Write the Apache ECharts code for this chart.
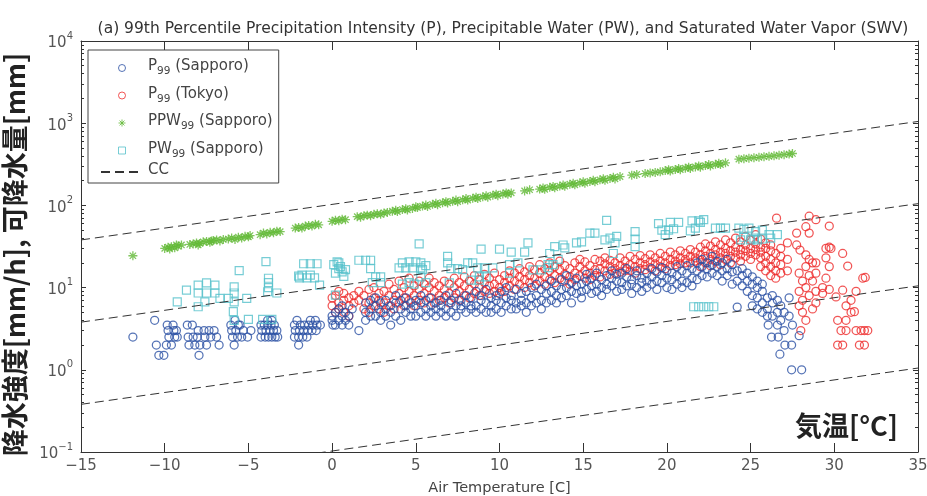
<!DOCTYPE html>
<html>
<head>
<meta charset="utf-8">
<title>P99 / PW99 vs air temperature</title>
<script src="https://cdn.jsdelivr.net/npm/echarts@6.0.0/dist/echarts.min.js"></script>
<style>
  html, body { margin: 0; padding: 0; background: #fff; }
  #main { width: 927px; height: 496px; }
</style>
</head>
<body>
<div id="main"></div>
<script>
// 99th percentile precipitation intensity, Sapporo [temperature, mm/h]
var sapporoP = [
  [-11.9,2.5],
  [-10.6,4],[-10.5,2],[-10.35,1.5],[-10.05,1.5],[-9.9,2],[-9.85,3.5],[-9.5,3.5],[-9.8,3],[-9.45,3],[-9.75,2.5],[-9.4,2.5],[-9.25,2.5],[-9.6,2],[-9.3,3],
  [-8.65,3.5],[-8.35,3.5],[-8.6,2.5],[-8.3,2.5],[-8.05,2.5],[-8.55,2],[-8.2,2],[-7.9,2],[-7.95,1.5],[-8.0,3],[-7.65,3],[-7.35,3],[-7.05,3],[-7.6,2.5],[-7.25,2.5],[-6.9,2.5],[-6.75,2],[-7.5,2],
  [-6.05,3.5],[-6.0,3],[-5.75,3],[-5.6,3.5],[-5.95,2.5],[-5.65,2.5],[-5.4,2.5],[-5.85,2],[-5.3,3],[-5.05,2.5],[-4.85,3],[-5.8,4],[-5.5,3.5],
  [-4.25,3.5],[-4.05,3.5],[-3.85,3.5],[-3.65,3.5],[-3.45,3.5],[-4.2,3],[-3.95,3],[-3.7,3],[-3.5,3],[-3.3,3],[-4.25,2.5],[-4.0,2.5],[-3.8,2.5],[-3.6,2.5],[-3.4,2.5],[-3.25,2.5],[-3.85,4],[-3.6,4],
  [-2.25,3.5],[-2.1,4],[-1.9,3.5],[-1.65,3.5],[-1.4,3.5],[-1.15,3.5],[-0.9,3.5],[-0.7,3.5],[-2.2,3],[-1.95,3],[-1.7,3],[-1.45,3],[-1.2,3],[-0.95,3],[-2.25,2.5],[-2.0,2.5],[-1.75,2.5],[-1.5,2.5],[-2.0,2],[-1.3,4],[-1.0,4],
  [0.0,4],[0.0,4.5],[0.05,3.5],[0.2,5],[0.2,3.5],[0.4,4],[0.4,5.5],[0.6,4.5],[0.6,3.5],[0.6,6],[0.8,5],[0.8,4],[1.0,4.5],[1.0,3.5],[1.2,5.5],[1.6,3],
  [2.0,5],[2.0,6.5],[2.0,4],[2.3,5.5],[2.3,7],[2.3,4.5],[2.6,6],[2.6,4.5],[2.6,7.5],[2.9,5],[2.9,6.5],[2.9,4],[3.2,5.5],[3.2,7],[3.2,4.5],[3.5,6],[3.5,5],[3.5,3.5],
  [3.8,6.5],[3.8,4.5],[3.8,8],[4.1,5.5],[4.1,7],[4.1,4],[4.4,6],[4.4,5],[4.4,7.5],[4.7,5.5],[4.7,4.5],[4.7,6.5],[5.0,6],[5.0,7],[5.0,4.5],[5.3,5],[5.3,6.5],[5.3,8],
  [5.6,5.5],[5.6,4.5],[5.6,7],[5.9,6],[5.9,5],[5.9,7.5],[6.2,6.5],[6.2,4.5],[6.2,5.5],[6.5,7],[6.5,5],[6.5,6],[6.8,5.5],[6.8,8],[6.8,4.5],[7.1,6.5],[7.1,5],[7.1,7],
  [7.4,6],[7.4,4.5],[7.4,8.5],[7.7,7],[7.7,5.5],[7.7,6],[8.0,6.5],[8.0,5],[8.0,8],[8.3,7.5],[8.3,5.5],[8.3,6],[8.6,6],[8.6,9],[8.6,5],[8.9,7],[8.9,5.5],[8.9,8],
  [9.2,6.5],[9.2,5],[9.2,9.5],[9.5,7.5],[9.5,6],[9.5,5],[9.8,8],[9.8,5.5],[9.8,7],[10.1,6.5],[10.1,9],[10.1,5],[10.4,7.5],[10.4,6],[10.4,10],[10.7,8],[10.7,5.5],[10.7,7],
  [11.0,6.5],[11.0,9.5],[11.0,5.5],[11.3,7],[11.3,8.5],[11.3,6],[11.6,9],[11.6,6.5],[11.6,5],[11.9,7.5],[11.9,10],[11.9,6],[12.2,8],[12.2,6.5],[12.2,11],[12.5,7],[12.5,9.5],[12.5,5.5],
  [12.8,8.5],[12.8,6.5],[12.8,10.5],[13.1,9],[13.1,7],[13.1,12],[13.4,8],[13.4,10.5],[13.4,6.5],[13.7,9.5],[13.7,7.5],[13.7,12.5],[14.0,10],[14.0,8],[14.0,14],[14.3,9],[14.3,11.5],[14.3,6.5],
  [14.6,10.5],[14.6,8.5],[14.6,13],[14.9,11],[14.9,9],[14.9,7.5],[15.2,12],[15.2,9.5],[15.2,14.5],[15.5,10.5],[15.5,13],[15.5,8.5],[15.8,11],[15.8,9],[15.8,15],[16.1,12.5],[16.1,10],[16.1,8],
  [16.4,11],[16.4,14],[16.4,9.5],[16.7,13],[16.7,10.5],[16.7,16],[17.0,12],[17.0,9],[17.0,14.5],[17.3,11.5],[17.3,15],[17.3,9.5],[17.6,13.5],[17.6,10.5],[17.6,17],[17.9,12.5],[17.9,11],[17.9,8.5],
  [18.2,14],[18.2,10],[18.2,16],[18.5,13],[18.5,11.5],[18.5,9],[18.8,15],[18.8,12],[18.8,10],[19.1,13.5],[19.1,11],[19.1,17],[19.4,12],[19.4,15.5],[19.4,9.5],[19.7,14],[19.7,11.5],[19.7,17.5],
  [20.0,13],[20.0,10],[20.0,16],[20.3,15],[20.3,12.5],[20.3,9.5],[20.6,14],[20.6,18],[20.6,11],[20.9,16],[20.9,12],[20.9,10],[21.2,15],[21.2,18.5],[21.2,11.5],[21.5,17],[21.5,13],[21.5,10.5],
  [21.8,16],[21.8,20],[21.8,12.5],[22.1,18],[22.1,14],[22.1,22],[22.4,17],[22.4,13.5],[22.4,20],[22.7,19],[22.7,15],[22.7,24],[23.0,18],[23.0,14],[23.0,21],[23.3,20],[23.3,16],[23.3,12],
  [23.6,17],[23.6,22],[23.6,14],[23.9,19],[23.9,15.5],[23.9,11],[24.2,16],[24.2,12],[24.2,5.8],[24.5,14],[24.5,10.5],[24.5,17],[24.8,12],[24.8,9],[24.8,15],
  [25.1,11],[25.1,8],[25.1,13.5],[25.1,6],[25.4,10],[25.4,7.5],[25.4,12],[25.4,5.5],[25.7,9],[25.7,6.5],[25.7,5],[25.7,11],[26.0,7.5],[26.0,5.5],[26.0,4.5],[26.05,3.5],
  [26.3,6.5],[26.3,4.5],[26.25,2.5],[26.3,8],[26.6,5],[26.65,2.5],[26.6,3.5],[26.6,7],[26.75,1.55],[26.8,4],[26.8,6],[27.05,2],[27.0,3],[27.0,5],[27.3,4.5],[27.45,2],[27.3,7.5],
  [27.45,1.0],[27.5,3.5],[28.05,1.0],[27.9,2.6]
];

// 99th percentile precipitation intensity, Tokyo [temperature, mm/h]
var tokyoP = [
  [0.0,6],[0.0,7.5],[0.2,5],[0.2,8],[0.4,6.5],[0.4,9],[0.4,5.5],[0.7,7],[0.7,5],[0.7,8.5],[1.0,6],[1.0,7.5],[1.0,4.5],[1.3,8],[1.3,6.5],[1.6,7],[1.6,9],[1.9,5.5],[1.9,8],
  [2.2,6.5],[2.2,9.5],[2.2,5],[2.5,7.5],[2.5,6],[2.5,10],[2.8,8.5],[2.8,5.5],[2.8,7],[3.1,6.5],[3.1,9],[3.1,5],[3.4,8],[3.4,11],[3.4,6],[3.7,7],[3.7,9.5],[3.7,5.5],
  [4.0,8.5],[4.0,6.5],[4.0,12],[4.3,7.5],[4.3,10],[4.3,6],[4.6,9],[4.6,13],[4.6,7],[4.9,8],[4.9,10.5],[4.9,6],[5.2,9.5],[5.2,7],[5.2,12],[5.5,8.5],[5.5,6.5],[5.5,11],
  [5.8,10],[5.8,7.5],[5.8,13],[6.1,9],[6.1,6.5],[6.1,11.5],[6.4,8],[6.4,10.5],[6.4,7],[6.7,9.5],[6.7,12],[6.7,7.5],[7.0,8.5],[7.0,11],[7.0,6.5],[7.3,10],[7.3,7.5],[7.3,13],
  [7.6,9],[7.6,11.5],[7.6,7],[7.9,10.5],[7.9,8],[7.9,13.5],[8.2,9.5],[8.2,12],[8.2,7.5],[8.5,11],[8.5,8.5],[8.5,14],[8.8,10],[8.8,12.5],[8.8,8],[9.1,9],[9.1,11.5],[9.1,14.5],
  [9.4,10.5],[9.4,8.5],[9.4,13],[9.7,11],[9.7,9],[9.7,15],[10.0,10],[10.0,12.5],[10.0,8.5],[10.3,11.5],[10.3,14],[10.3,9],[10.6,10.5],[10.6,13],[10.6,16],[10.9,12],[10.9,9.5],[10.9,15],
  [11.2,11],[11.2,13.5],[11.2,17],[11.5,12.5],[11.5,10],[11.5,15.5],[11.8,11.5],[11.8,14],[11.8,18],[12.1,13],[12.1,10.5],[12.1,16.5],[12.4,12],[12.4,15],[12.4,19],[12.7,13.5],[12.7,11],[12.7,17],
  [13.0,12.5],[13.0,16],[13.0,20],[13.3,14],[13.3,11.5],[13.3,18],[13.6,13],[13.6,16.5],[13.6,21],[13.9,14.5],[13.9,12],[13.9,18.5],[14.2,13.5],[14.2,17],[14.2,11],[14.5,15],[14.5,12.5],[14.5,20],
  [14.8,14],[14.8,18],[14.8,22],[15.1,16],[15.1,13],[15.1,20.5],[15.4,15],[15.4,18.5],[15.4,12.5],[15.7,16.5],[15.7,14],[15.7,22],[16.0,17],[16.0,13.5],[16.0,21],[16.3,16],[16.3,19.5],[16.3,23],
  [16.6,18],[16.6,14.5],[16.6,21.5],[16.9,17],[16.9,20],[16.9,15],[17.2,18.5],[17.2,15.5],[17.2,23],[17.5,17.5],[17.5,21],[17.5,16],[17.8,19],[17.8,16],[17.8,24],[18.1,18],[18.1,22],[18.1,15],
  [18.4,20],[18.4,17],[18.4,24.5],[18.7,19],[18.7,22.5],[18.7,16.5],[19.0,20.5],[19.0,17.5],[19.0,25],[19.3,19.5],[19.3,23],[19.3,16],[19.6,21],[19.6,18],[19.6,26],[19.9,20],[19.9,24],[19.9,17],
  [20.2,22],[20.2,18.5],[20.2,27],[20.5,21],[20.5,25],[20.5,19],[20.8,23],[20.8,19.5],[20.8,28],[21.1,22],[21.1,26],[21.1,20],[21.4,24],[21.4,20],[21.4,29],[21.7,23],[21.7,27],[21.7,21],
  [22.0,25],[22.0,21.5],[22.0,31],[22.0,18],[22.3,24],[22.3,28],[22.3,20],[22.3,34],[22.6,26],[22.6,22],[22.6,32],[22.6,18.5],[22.9,25],[22.9,29],[22.9,36],[22.9,21],
  [23.2,27],[23.2,23],[23.2,33],[23.2,19],[23.5,26],[23.5,30],[23.5,38],[23.5,22],[23.8,28],[23.8,24],[23.8,35],[23.8,20],[24.1,27],[24.1,31],[24.1,40],[24.1,23],
  [24.4,29],[24.4,25],[24.4,36],[24.4,21],[24.7,28],[24.7,33],[24.7,42],[24.7,24],[25.0,30],[25.0,26],[25.0,38],[25.0,22],[25.3,29],[25.3,34],[25.3,44],[25.3,25],
  [25.6,31],[25.6,27],[25.6,39],[25.6,23],[25.6,18],[25.9,30],[25.9,35],[25.9,24],[25.9,20],[25.9,16],[26.2,28],[26.2,33],[26.2,22],[26.2,18],[26.2,14],
  [26.55,70],[26.5,26],[26.5,20],[26.5,16],[26.5,13],[26.8,30],[26.8,24],[26.8,19],[26.8,15],[27.2,35],[27.2,22],[27.2,16],
  [27.75,46],[27.75,33],[27.95,28.6],[27.9,15],[27.9,9],[27.9,6],[28.0,3],[28.1,12],[28.1,7],[28.1,5],[28.3,55],[28.3,25],[28.3,18],[28.3,10],[28.3,4],
  [28.5,74],[28.5,46],[28.5,22],[28.5,14],[28.5,8],[28.7,20],[28.7,12],[28.7,5.5],[28.9,67],[28.9,20],[28.9,15],[28.9,9],[28.9,6.5],
  [29.3,10],[29.3,8.5],[29.5,30],[29.5,23],[29.5,13],[29.7,56],[29.7,31],[29.7,18],[29.7,9.5],[29.8,30],[30.1,7.7],[30.2,4],[30.2,2],[30.4,3],
  [30.5,26],[30.5,9.3],[30.5,2],[30.7,4],[30.7,3],[30.7,6],[30.8,18.3],[31.0,5],[31.0,7],[31.2,5.1],[31.3,3],[31.3,9],[31.5,2],[31.6,3],
  [31.7,13],[31.8,2],[31.8,3],[31.85,13.3],[32.0,3]
];

// 99th percentile of potential precipitable water, Sapporo [temperature, mm]
var ppwSapporo = [
  [-11.9,24.4],
  [-10.0,30],[-9.8,31],[-9.6,31.5],[-9.4,30.5],[-9.2,32],[-9.0,33],[-9.7,29.5],[-9.3,33],
  [-8.5,33.5],[-8.3,34],[-8.1,35],[-7.9,34.5],[-7.7,36],[-7.5,36.5],[-7.3,35.5],[-7.1,37.5],[-6.9,38],[-6.7,37],[-6.5,38.5],[-8.0,33],[-7.2,37],
  [-6.2,39],[-6.0,40],[-5.8,38.5],[-5.6,41],[-5.4,40],[-5.2,42],[-5.0,41.5],[-4.9,43],
  [-4.3,44],[-4.1,46],[-3.9,45],[-3.7,47],[-3.5,46.5],[-3.3,48.5],[-3.1,48],
  [-2.2,53],[-2.0,54],[-1.8,53],[-1.6,56],[-1.4,57],[-1.2,56],[-1.0,59],[-0.8,58],
  [0.0,64],[0.2,66],[0.4,65],[0.6,68],[0.8,67],
  [1.5,73],[1.7,72],[1.9,75],[2.1,76],[2.3,75],[2.5,78],[2.7,79],[2.9,78],[3.1,81],[3.3,82],
  [3.6,85],[3.8,87],[3.9,84],[4.2,89],[4.4,91],[4.5,88],[4.8,92],[5.0,96],[5.1,94],[5.4,98],[5.6,101],[5.7,97],[6.0,103],[6.2,106],[6.3,102],
  [6.6,108],[6.8,111],[6.9,107],[7.2,112],[7.4,116],[7.5,111],[7.8,117],[8.0,121],[8.1,116],[8.4,122],[8.6,126],[8.7,121],[9.0,127],[9.2,131],
  [9.3,126],[9.6,133],[9.8,137],[9.9,131],[10.2,138],[10.4,142],[10.5,137],[10.7,142],
  [11.5,150],[11.8,155],
  [12.4,158],[12.6,163],[12.7,157],[13.0,166],[13.2,170],[13.3,164],[13.6,172],[13.8,177],[13.9,171],[14.2,181],[14.4,186],[14.5,178],[14.8,188],
  [15.0,194],[15.1,186],[15.4,196],[15.6,202],[15.7,194],[16.0,205],[16.2,211],[16.3,202],[16.6,213],[16.8,220],[16.9,210],[17.2,224],
  [17.9,233],[18.2,238],
  [18.7,244],[19.0,248],[19.3,252],[19.6,256],
  [19.9,265],[20.1,272],[20.2,262],[20.5,274],[20.7,281],[20.8,272],[21.1,284],[21.3,292],[21.4,282],[21.7,294],[21.9,302],[22.0,292],
  [22.3,305],[22.5,314],[22.6,302],[22.9,316],[23.1,325],[23.2,314],[23.5,330],
  [24.3,365],[24.6,370],[24.9,375],[25.2,380],[25.5,385],[25.8,391],[26.1,396],[26.4,401],[26.7,408],[27.0,414],[27.3,421],[27.5,428]
];

// 99th percentile of precipitable water, Sapporo [temperature, mm]
var pwSapporo = [
  [-9.25,6.7],[-8.7,9.3],[-8.0,10.7],[-7.5,11.4],[-7.0,10.7],[-8.0,8.6],[-7.5,8.6],[-7.0,8.6],[-8.0,5.85],[-7.6,6.7],[-6.7,7.4],[-6.2,7.4],
  [-5.85,10.2],[-5.85,8.6],[-5.85,6.7],[-5.9,5.1],[-5.85,4.0],[-5.55,16.1],[-5.0,4.1],[-5.1,7.4],[-4.15,4.1],[-3.6,4.1],
  [-3.95,20.7],[-3.8,13],[-3.8,11.5],[-3.8,10],[-3.85,8.9],[-3.3,8.6],
  [-1.95,13.1],[-1.5,13.1],[-1.05,13.1],[-1.7,19.5],[-1.3,19.5],[-0.9,19.5],[-1.8,14.2],[-1.3,14.2],[-0.75,10.7],[-2.0,13.8],
  [0.4,20],[0.4,17],[0.2,15],[0.3,20.6],[0.5,18],[0.6,15.5],[0.7,13.7],[0.8,16.5],[0.2,8.1],[0.1,19],
  [1.6,21.5],[2.0,21.5],[2.3,21.5],[2.3,17],[2.6,13.5],[2.9,13.5],[2.9,11.5],[2.4,11.5],
  [4.2,20],[4.6,20.5],[5.0,20.5],[5.3,20],[4.0,17.4],[4.4,17.4],[4.8,17.4],[5.3,17.4],[5.6,18.5],[4.2,11],[4.6,11.5],[4.9,11],[5.3,13.5],[5.4,16.5],[5.2,34],[5.6,11.5],
  [6.9,24],[6.9,20],[7.1,17],[7.0,11.4],[7.5,17],[7.8,16.5],[8.1,20],[8.4,20],[8.9,29.4],[10.0,29.4],[10.7,27],[11.5,27],[11.7,35],
  [8.7,17.4],[9.1,17.4],[9.6,17.4],[8.8,13.5],[9.2,13.5],[10.6,19],[10.6,15],[11.1,20],[12.0,16.4],[12.5,16.4],[12.9,19],[8.3,12.3],[8.8,12.3],
  [13.3,31.6],[13.8,33],[13.9,30.5],[14.6,35],[14.9,36],[15.4,46],[15.7,46],[16.4,65.6],[16.3,38],[16.9,35],[16.6,40],[17.0,42],
  [18.1,48],[18.1,39],[18.1,31.6],[16.8,26],[13.0,26],[13.5,22],[13.2,19],[12.9,17.5],
  [19.5,60],[20.2,62],[20.7,62],[21.5,65],[21.9,65],[22.2,67],[22.0,62],[19.7,50],[20.1,50],[20.4,52],[19.9,44],[21.4,49],[21.7,53],
  [22.9,53],[23.2,53],[23.5,53],[24.3,53],[24.6,51],[24.9,53],[25.3,48],[25.7,50],[26.1,44],[24.4,38],[25.0,38],[25.4,38],[24.6,41],[25.2,40],[25.7,39],[26.2,40],[26.6,44],
  [21.6,5.85],[21.9,5.85],[22.2,5.85],[22.5,5.85],[22.8,5.85]
];

// Clausius-Clapeyron reference lines: value at -15 C and at 35 C
var ccAtMinus15 = [0.038, 0.38, 3.8, 38];
var ccAt35 = [1.05, 10.5, 105, 1050];

var seriesNames = ['P99 (Sapporo)', 'P99 (Tokyo)', 'PPW99 (Sapporo)', 'PW99 (Sapporo)', 'CC'];
var legendLabels = {
  'P99 (Sapporo)': '{n|P}{s|99}{n| (Sapporo)}',
  'P99 (Tokyo)': '{n|P}{s|99}{n| (Tokyo)}',
  'PPW99 (Sapporo)': '{n|PPW}{s|99}{n| (Sapporo)}',
  'PW99 (Sapporo)': '{n|PW}{s|99}{n| (Sapporo)}',
  'CC': '{n|CC}'
};
var titleText = '(a) 99th Percentile Precipitation Intensity (P), Precipitable Water (PW), and Saturated Water Vapor (SWV)';

var chart = echarts.init(document.getElementById('main'));

var uiFont = '"DejaVu Sans", sans-serif';
var axisColor = '#333';
var labelColor = '#555';
var colBlue = '#2a50a4', colRed = '#ee2a2a', colGreen = '#62b936', colCyan = '#55c1cb';
var starPath = 'path://M5 0L5 10M0 5L10 5M1.5 1.5L8.5 8.5M8.5 1.5L1.5 8.5';
var squarePath = 'path://M0 0L10 0L10 10L0 10Z';

function hollow(color, w) {
  return { color: 'rgba(0,0,0,0)', borderColor: color, borderWidth: w || 1 };
}

var series = [
  { name: seriesNames[1], type: 'scatter', data: tokyoP, symbol: 'circle', symbolSize: 8, itemStyle: hollow(colRed, 1.25), z: 2 },
  { name: seriesNames[0], type: 'scatter', data: sapporoP, symbol: 'circle', symbolSize: 8, itemStyle: hollow(colBlue, 1.25), z: 3 },
  { name: seriesNames[2], type: 'scatter', data: ppwSapporo, symbol: starPath, symbolSize: 9,
    itemStyle: hollow(colGreen, 1.3), z: 4 },
  { name: seriesNames[3], type: 'scatter', data: pwSapporo, symbol: squarePath, symbolSize: 8, itemStyle: hollow(colCyan, 1.2), z: 5 }
];
for (var k = 0; k < ccAt35.length; k++) {
  series.push({
    name: 'CC', type: 'line', data: [[-15, ccAtMinus15[k]], [35, ccAt35[k]]],
    symbol: 'none', clip: true, silent: true, z: 6,
    itemStyle: { color: '#333' },
    lineStyle: { color: '#333', width: 1, type: [9, 5] }
  });
}

function xLabel(v) {
  return v < 0 ? '\u2212' + Math.abs(v) : String(v);
}
function yLabel(v) {
  var e = Math.round(Math.log(v) / Math.LN10);
  return '{b|10}{e|' + (e < 0 ? '\u2212' + (-e) : e) + '}';
}

var xBase = {
  type: 'value', min: -15, max: 35, interval: 5,
  axisLine: { show: true, onZero: false, lineStyle: { color: axisColor, width: 1 } },
  axisTick: { show: true, inside: true, length: 9, lineStyle: { color: axisColor } },
  splitLine: { show: false }
};
var yBase = {
  type: 'log', logBase: 10, min: 0.1, max: 10000,
  axisLine: { show: true, onZero: false, lineStyle: { color: axisColor, width: 1 } },
  axisTick: { show: true, inside: true, length: 5, lineStyle: { color: axisColor } },
  minorTick: { show: true, splitNumber: 9, length: 3, lineStyle: { color: axisColor } },
  splitLine: { show: false },
  minorSplitLine: { show: false }
};

var option = {
  animation: false,
  backgroundColor: '#fff',
  title: {
    text: titleText, left: 498, textAlign: 'center', top: 16,
    textStyle: { fontSize: 15.5, fontWeight: 'normal', color: '#333', fontFamily: uiFont }
  },
  grid: { left: 81, right: 9, top: 41, bottom: 44, containLabel: false, outerBoundsMode: 'none' },
  legend: {
    orient: 'vertical', left: 88, top: 50,
    padding: [3, 6, 5, 12], itemGap: 3.5, itemWidth: 42, itemHeight: 7,
    backgroundColor: '#fff', borderColor: '#444', borderWidth: 1, borderRadius: 0,
    data: [
      { name: seriesNames[0], icon: 'circle', itemStyle: hollow(colBlue) },
      { name: seriesNames[1], icon: 'circle', itemStyle: hollow(colRed) },
      { name: seriesNames[2], icon: starPath, itemStyle: hollow(colGreen) },
      { name: seriesNames[3], icon: squarePath, itemStyle: hollow(colCyan) },
      { name: seriesNames[4], itemStyle: { color: 'rgba(0,0,0,0)', borderColor: 'rgba(0,0,0,0)', borderWidth: 0 } }
    ],
    formatter: function (name) { return legendLabels[name]; },
    textStyle: {
      color: '#444', fontFamily: uiFont,
      rich: {
        n: { fontSize: 15, lineHeight: 18, verticalAlign: 'top', color: '#444', fontFamily: uiFont },
        s: { fontSize: 10.5, lineHeight: 10, verticalAlign: 'bottom', padding: [13, 0, 0, 0], color: '#444', fontFamily: uiFont }
      }
    }
  },
  xAxis: [
    Object.assign({}, xBase, {
      position: 'bottom',
      axisLabel: { margin: 7, fontSize: 15, color: labelColor, fontFamily: uiFont, formatter: xLabel },
      name: 'Air Temperature [C]', nameLocation: 'middle', nameGap: 29,
      nameTextStyle: { fontSize: 14.5, color: '#444', fontFamily: uiFont }
    }),
    Object.assign({}, xBase, { position: 'top', axisLabel: { show: false } })
  ],
  yAxis: [
    Object.assign({}, yBase, {
      position: 'left',
      axisLabel: {
        margin: 8, color: labelColor, formatter: yLabel,
        rich: {
          b: { fontSize: 15, lineHeight: 20, verticalAlign: 'bottom', color: labelColor, fontFamily: uiFont },
          e: { fontSize: 10, lineHeight: 10, verticalAlign: 'top', color: labelColor, fontFamily: uiFont }
        }
      },
      name: '降水強度[mm/h], 可降水量[mm]', nameLocation: 'middle', nameGap: 40, nameRotate: 90,
      nameTextStyle: { fontSize: 27, fontWeight: 'bold', color: '#222', fontFamily: '"Noto Sans CJK JP", sans-serif',
        padding: [0, 16, 0, 0] }
    }),
    Object.assign({}, yBase, { position: 'right', axisLabel: { show: false } })
  ],
  graphic: [{
    type: 'text', right: 29, top: 412, z: 10,
    style: { text: '気温[°C]', font: 'bold 27px "Noto Sans CJK JP", sans-serif', fill: '#222' }
  }],
  series: series
};

chart.setOption(option);
</script>
</body>
</html>
